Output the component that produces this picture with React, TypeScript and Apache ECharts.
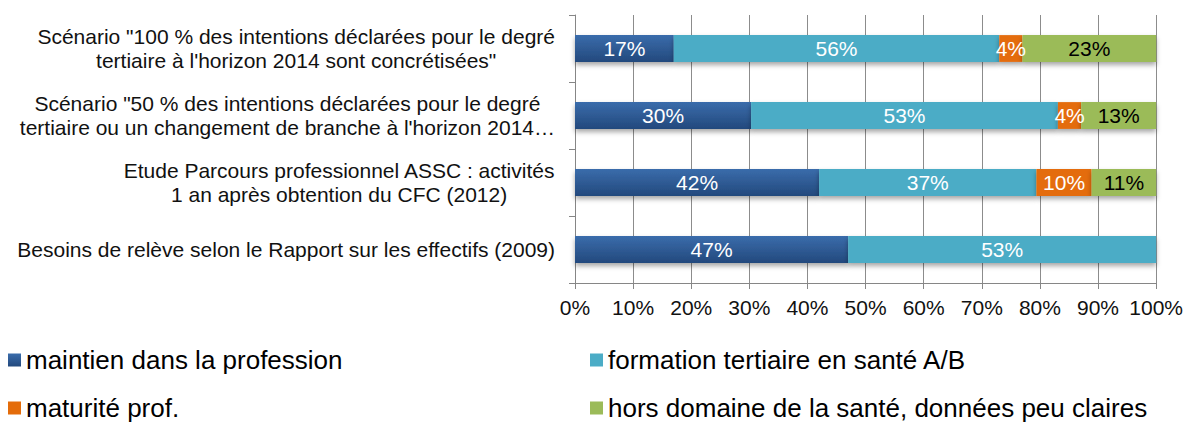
import React, { useEffect, useRef } from "react";
import * as echarts from "echarts";

const categories = [
  'Scénario "100 % des intentions déclarées pour le degré\ntertiaire à l\'horizon 2014 sont concrétisées"',
  'Scénario "50 % des intentions déclarées pour le degré\ntertiaire ou un changement de branche à l\'horizon 2014…',
  "Etude Parcours professionnel ASSC : activités\n1 an après obtention du CFC (2012)",
  "Besoins de relève selon le Rapport sur les effectifs (2009)",
];

const seriesNames = [
  "maintien dans la profession",
  "formation tertiaire en santé A/B",
  "maturité prof.",
  "hors domaine de la santé, données peu claires",
];

const maintien = [17, 30.3, 42, 47];
const formation = [56, 52.8, 37.4, 53];
const maturite = [4, 4, 9.5, null];
const horsDomaine = [23, 12.9, 11.1, null];

const xTicks = { min: 0, max: 100, interval: 10 };

const FONT = "'Liberation Sans', Arial, sans-serif";

export default function App() {
  const ref = useRef<HTMLDivElement>(null);

  useEffect(() => {
    document.body.style.margin = "0";
    if (!ref.current) return;
    const chart = echarts.init(ref.current, undefined, { renderer: "svg" });

    const shadow = {
      shadowColor: "rgba(0,0,0,0.35)",
      shadowBlur: 5,
      shadowOffsetY: 3,
    };

    const labelFor = (color: string) => ({
      show: true,
      position: "inside",
      fontSize: 21,
      fontFamily: FONT,
      color,
      formatter: (p: any) => (p.value == null ? "" : Math.round(p.value) + "%"),
    });

    const colors = [
      new echarts.graphic.LinearGradient(0, 0, 0, 1, [
        { offset: 0, color: "#3A6CAB" },
        { offset: 1, color: "#23497D" },
      ]),
      "#4BACC6",
      "#E46C0A",
      "#9BBB59",
    ];
    const labelColors = ["#fff", "#fff", "#fff", "#000"];
    const values = [maintien, formation, maturite, horsDomaine];

    const legendPos = [
      { left: 8, top: 346 },
      { left: 590, top: 346 },
      { left: 8, top: 394 },
      { left: 590, top: 394 },
    ];

    chart.setOption({
      animation: false,
      grid: { left: 575, right: 28, top: 15, bottom: 140, containLabel: false },
      xAxis: {
        type: "value",
        min: xTicks.min,
        max: xTicks.max,
        interval: xTicks.interval,
        axisLine: { show: true, lineStyle: { color: "#868686", width: 1 } },
        axisTick: { show: true, length: 6, lineStyle: { color: "#868686" } },
        splitLine: { show: true, lineStyle: { color: "#8C8C8C", width: 1 } },
        axisLabel: {
          formatter: "{value}%",
          fontSize: 21,
          fontFamily: FONT,
          color: "#111",
          margin: 14,
        },
      },
      yAxis: {
        type: "category",
        inverse: true,
        data: categories,
        axisLine: { show: true, lineStyle: { color: "#868686", width: 1 } },
        axisTick: { show: true, length: 6, lineStyle: { color: "#868686" } },
        splitLine: { show: false },
        axisLabel: {
          margin: 20,
          align: "right",
          fontSize: 21,
          fontFamily: FONT,
          color: "#111",
          lineHeight: 24,
          formatter: (v: string) =>
            v
              .split("\n")
              .map((l) => `{c|${l}}`)
              .join("\n"),
          rich: {
            c: {
              align: "center",
              fontSize: 21,
              lineHeight: 24,
              fontFamily: FONT,
              color: "#111",
            },
          },
        },
      },
      legend: seriesNames.map((name, i) => ({
        left: legendPos[i].left,
        top: legendPos[i].top,
        padding: 0,
        orient: "horizontal",
        icon: "rect",
        itemWidth: 13,
        itemHeight: 13,
        data: [name],
        textStyle: { fontSize: 26, lineHeight: 28, fontFamily: FONT, color: "#000" },
        itemStyle: { shadowBlur: 0, shadowOffsetY: 0, shadowColor: "transparent" },
      })),
      series: seriesNames.map((name, i) => ({
        name,
        type: "bar",
        stack: "total",
        barCategoryGap: "60%",
        data: values[i],
        itemStyle: { color: colors[i], ...shadow },
        label: labelFor(labelColors[i]),
      })),
    });

    return () => chart.dispose();
  }, []);

  return <div ref={ref} style={{ width: 1186, height: 423 }} />;
}
